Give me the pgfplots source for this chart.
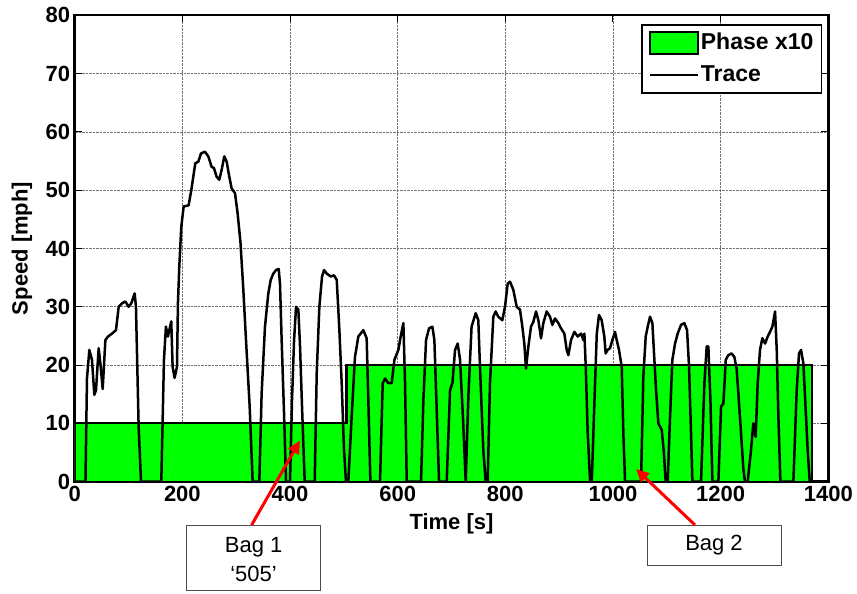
\documentclass[border=0pt]{standalone}
\usepackage{pgfplots}
\pgfplotsset{compat=1.18}
\usepackage{fontspec}
\setmainfont{Liberation Sans}
\usetikzlibrary{arrows.meta}

\definecolor{phasegreen}{RGB}{0,255,0}

\pgfplotsset{
  phase legend/.style={legend image code/.code={\draw[##1] (2pt,-10.8pt) rectangle (50pt,10.8pt);}},
  trace legend/.style={legend image code/.code={\draw[##1] (2pt,0pt) -- (50pt,0pt);}},
}

\begin{document}
\begin{tikzpicture}
\useasboundingbox (-74.7pt,-112.3pt) rectangle (782.3pt,481.7pt);
\begin{axis}[
  at={(0,0)}, anchor=south west,
  scale only axis, width=753.6pt, height=466.4pt,
  xmin=0, xmax=1400, ymin=0, ymax=80,
  xtick={0,200,...,1400}, ytick={0,10,...,80},
  tick align=inside, major tick length=7pt,
  grid=major, grid style={densely dotted, black!55, line width=0.6pt},
  axis line style={line width=2.4pt},
  every tick/.style={black, line width=1pt},
  /pgf/number format/assume math mode=true,
  /pgf/number format/1000 sep={},
  tick label style={font=\fontsize{22}{25}\selectfont\bfseries},
  yticklabel style={xshift=-1pt},
  xticklabel style={yshift=-1pt},
  xlabel={Time [s]}, ylabel={Speed [mph]},
  label style={font=\fontsize{22}{25}\selectfont\bfseries},
  xlabel style={at={(axis description cs:0.5,-0.0905)}, anchor=center},
  ylabel style={at={(axis description cs:-0.0699,0.5)}, anchor=center},
  legend cell align=left,
  legend style={at={(1,1)}, anchor=north east, xshift=-6pt, yshift=-9pt,
    draw=black, line width=1.8pt, fill=white,
    font=\fontsize{23}{26}\selectfont\bfseries,
    nodes={inner sep=2pt, text height=17pt, text depth=5pt},
    inner xsep=6pt, inner ysep=5pt, row sep=6pt},
]
% phase indicator (bag number times ten)
\addplot[draw=black, line width=2.2pt, fill=phasegreen, phase legend]
  coordinates {(0,0) (0,10) (505,10) (505,20) (1370,20) (1370,0)} \closedcycle;
\addlegendentry{Phase x10}

% UDDS speed trace
\addplot[black, line width=2.5pt, line join=round, trace legend]
  coordinates {
(0,0) (20,0) (22.8,17.7) (27.2,22.6) (32.1,20.9) (36.5,14.9) (39.6,15.7)
(44.5,22.9) (48,20) (52.0,15.9) (57.0,24.3) (61.9,24.9) (69.3,25.4) (76.7,26.0)
(81.7,30.0) (87.9,30.6) (94.1,30.9) (100.2,30.0) (105.2,30.6) (111.4,32.3)
(113.8,30.0) (118.8,9.4) (123.2,0) (160.9,0) (165.8,20.9) (169.5,26.6)
(173.2,24.9) (179.4,27.5) (181.9,19.7) (185.6,17.8) (190,19.7) (191.8,30.6)
(194.3,36.9) (198,43.7) (202.4,47.2) (211.6,47.4) (216.6,50.0) (224,54.6)
(229.7,54.9) (234.6,56.3) (242,56.6) (248.2,55.8) (254.4,54.0) (258.7,53.8)
(263.7,52.3) (268.6,51.8) (273,53.5) (277.9,55.8) (282.3,54.9) (287.2,52.3)
(291.6,50.3) (297.8,49.5) (302.7,46.0) (308,41) (313.2,33) (319,23) (325,13)
(330.6,0) (343.0,0) (347.3,15.2) (353.5,26.6) (359.7,32.3) (364.1,34.6)
(369.0,35.7) (374.0,36.3) (379.0,36.5) (381.4,33.9) (384.5,24.2) (388.9,11.7)
(392.6,0) (400,0) (403.7,14.0) (407.5,24.2) (411.2,30.0) (415.5,29.5)
(418.6,23.2) (422.3,12.9) (427.3,0) (445.9,0) (449.6,18.6) (454.5,30.0)
(459.5,35.2) (463.2,36.3) (468.2,35.7) (475.6,35.2) (481.8,35.4) (486.8,34.6)
(491.7,26) (496,16.9) (500.3,5.5) (504,0) (508.3,0) (514.5,11.1) (520.7,21.4)
(526.9,24.9) (532,25.5) (536.2,26.0) (542.4,24.6) (545.5,14.0) (549.3,0)
(567.2,0) (572.2,16.9) (576.5,17.7) (582.7,16.9) (588.9,16.9) (593.9,20.9)
(601.3,22.6) (605.6,24.9) (610.6,27.2) (613.7,16.9) (616.8,0) (643.4,0)
(647.8,14.0) (652.7,24.3) (658.3,26.3) (664.5,26.6) (668.2,24.3) (672.5,12.3)
(676.9,0) (691.1,0) (697.3,15.7) (701.7,16.9) (706.6,22.6) (711.5,23.7)
(715.9,20.9) (722.1,9.4) (726.4,0) (731.5,15) (737.3,26.6) (744.9,28.9)
(749.8,27.7) (752.9,19.7) (759.1,5.4) (763.5,0) (767.2,0) (771.5,16.9)
(777.7,28.3) (782.1,29.2) (787.0,28.3) (794.4,27.7) (799.4,30.0) (804.4,34.0)
(808.7,34.3) (814.9,32.9) (821.1,30.0) (827.3,29.5) (831.6,26.6) (835.3,23.7)
(838.4,19.4) (842.8,23.2) (847.7,26.6) (852.0,27.4) (857.0,29.2) (861.4,27.7)
(866.3,24.6) (870.6,27.2) (876.8,29.2) (883.0,28.3) (887.4,26.9) (892.3,28.0)
(898.5,27.2) (903.5,26.3) (909.7,25.4) (914.0,22.6) (917.1,21.7) (922.1,24.3)
(928.3,25.7) (934.5,24.9) (940.7,25.4) (945.0,24.3) (946.9,25.4) (949.4,19.7)
(953.1,8.3) (957.5,0) (960.6,0) (965.6,14.0) (969.9,25.4) (974.0,28.6)
(979.0,27.7) (983.9,24.9) (986.4,22.0) (990.1,22.6) (994.5,22.9) (998.8,24.3)
(1003.8,25.7) (1006.9,24.3) (1011.2,22.6) (1016.2,19.7) (1019.3,8.3)
(1022.4,0) (1052.1,0) (1056.4,18.0) (1060.8,24.9) (1064.5,26.6) (1068.8,28.3)
(1073.2,27.2) (1076.9,20.9) (1080.0,15.7) (1084.3,10.0) (1090.5,8.9)
(1094.2,5.4) (1097.9,0) (1101.6,0) (1106.0,11.1) (1110.3,20.9) (1115.3,23.7)
(1120.2,25.4) (1126.4,26.9) (1132.6,27.2) (1137.6,26.0) (1141.3,19.7)
(1145.0,8.3) (1147.5,0) (1163.6,0) (1169.8,16.9) (1174.1,23.2) (1177.2,23.2)
(1181.0,14.0) (1184.7,0) (1195.8,0) (1200.8,12.9) (1205.1,13.4) (1209.5,20.9)
(1214.2,21.7) (1220.4,22.0) (1225.4,21.4) (1229.7,19.4) (1235.9,11.1)
(1242.1,2.3) (1245.2,0) (1250.2,0) (1256.4,5.4) (1260.7,10.0) (1265.1,7.7)
(1268.8,16.9) (1273.1,22.6) (1277.5,24.6) (1282.5,23.7) (1287.4,24.9)
(1291.8,25.7) (1296.1,26.6) (1301.1,29.2) (1304.2,22.6) (1307.3,11.1)
(1311.0,0) (1335.1,0) (1341.3,15.7) (1345.6,22.0) (1349.3,22.6) (1353.7,20.3)
(1358.0,12.3) (1361.7,5.4) (1365.5,0) (1369,0)
  };
\addlegendentry{Trace}
\end{axis}

% bag call-outs below the time axis
\draw[black!70, line width=0.8pt, fill=white] (112.1pt,-43.3pt) rectangle (245.6pt,-109.0pt);
\node[font=\fontsize{22}{29}\selectfont, align=center] at (178.9pt,-78.3pt) {Bag 1\\‘505’};
\draw[black!70, line width=0.8pt, fill=white] (572.3pt,-43.3pt) rectangle (706.3pt,-83.3pt);
\node[font=\fontsize{22}{25}\selectfont] at (639.3pt,-63.8pt) {Bag 2};
\draw[red, line width=3pt, -{Triangle[length=13pt,width=12pt]}] (176.9pt,-43.3pt) -- (225.3pt,41.2pt);
\draw[red, line width=3pt, -{Triangle[length=13pt,width=12pt]}] (620.3pt,-43.3pt) -- (561.3pt,12.7pt);
\end{tikzpicture}
\end{document}
